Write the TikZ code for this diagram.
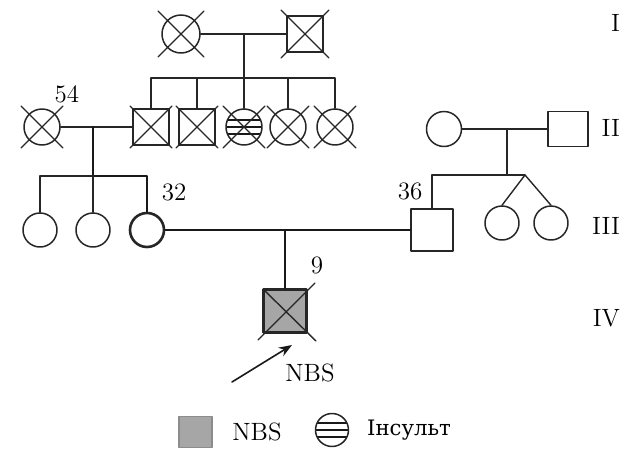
\documentclass[tikz,border=0pt]{standalone}
\usepackage{fontspec}
\newfontfamily\cyrfont{DejaVu Serif}[Scale=0.85]
\usetikzlibrary{arrows.meta}
\tikzset{
  every picture/.style={font=\fontsize{12.5}{14}\selectfont, line join=round, line cap=round, >=Stealth},
  link/.style={draw=black!85, line width=0.7pt},
  bold link/.style={draw=black!90, line width=1.25pt},
  person/.style={draw=black!85, line width=0.75pt, inner sep=0pt, fill=white},
  male/.style={person, rectangle, minimum size=18pt},
  female/.style={person, circle, minimum size=18pt},
  insult/.style={path picture={
    \draw[black!90, line width=1.4pt, shift={(path picture bounding box.center)}]
      (-30,-7) -- (30,-7) (-30,0) -- (30,0) (-30,7) -- (30,7);}},
}
\newcommand{\deceased}[2]{\draw[link,shift={(#1.center)}] (-#2,-#2) -- (#2,#2) (-#2,#2) -- (#2,-#2);}

\begin{document}
\begin{tikzpicture}[x=0.5pt,y=-0.5pt]
\useasboundingbox (0,0) rectangle (639,450);
% generation I
\node[female,minimum size=19pt] (g1) at (181,34) {};
\node[male] (g2) at (305,34) {};
\coordinate (u1) at (244,34);
\coordinate (k1) at (244,78);
\draw[link] (g1) -- (g2);
\draw[link] (u1) -- (k1);
% generation II
\node[female] (w54) at (42,127) {};
\node[male] (s1) at (151,127) {};
\node[male] (s2) at (197,127) {};
\node[female,insult] (s3) at (244,127) {};
\node[female] (s4) at (288,127) {};
\node[female] (s5) at (335,127) {};
\node[female,minimum size=17.5pt] (b1) at (444,129) {};
\node[male,minimum width=20pt,minimum height=17.5pt] (b2) at (568,129) {};
\draw[link] (s1.north) |- (k1) -| (s5.north);
\draw[link] (s2.north) -- (s2.north |- k1);
\draw[link] (s3.north) -- (k1);
\draw[link] (s4.north) -- (s4.north |- k1);
\coordinate (u2) at (93,127);
\coordinate (k2) at (93,176);
\draw[link] (w54) -- (s1);
\coordinate (u4) at (507,129);
\coordinate (k4) at (507,175);
\coordinate (tw) at (525,175);
\draw[link] (b1) -- (b2);
\draw[link] (u4) -- (k4);
% generation III
\node[female,minimum size=17pt] (c1) at (40,230) {};
\node[female,minimum size=17pt] (c2) at (93,230) {};
\node[female,minimum size=17pt,line width=1.3pt] (c3) at (147,230) {};
\node[male,minimum size=21pt] (h36) at (432,230) {};
\node[female,minimum size=17pt] (t1) at (502,223) {};
\node[female,minimum size=17pt] (t2) at (551,223) {};
\draw[bold link] (u2) -- (k2) -| (c3.north);
\draw[link] (c1.north) |- (k2) -- (c2.north);
\draw[link] (h36.north) |- (tw);
\draw[link] (t1.north) -- (tw) -- (t2.north);
\draw[bold link] (c3) -- (h36);
\coordinate (u3) at (285,230);
% generation IV
\node[male,minimum size=21.5pt,fill=black!35,line width=1.4pt] (p9) at (285,311) {};
\draw[bold link] (u3) -- (p9.north);
\draw[link,shift={(p9.center)}] (-21.5,-21.5) -- (31,30) (-27,29) -- (30,-28);
% deceased
\deceased{g1}{23}
\deceased{g2}{24}
\deceased{w54}{21}
\deceased{s1}{21}
\deceased{s2}{21}
\deceased{s3}{21}
\deceased{s4}{21}
\deceased{s5}{21}
% labels
\node (n54) at (67,94) {54};
\node (n32) at (174,192) {32};
\node (n36) at (410,191) {36};
\node (n9) at (317,265) {9};
\node (nbs) at (310,373) {NBS};
\coordinate (ar1) at (232,382);
\coordinate (ar2) at (292,345);
\draw[->,black!90,line width=0.8pt] (ar1) -- (ar2);
\node[anchor=east] (r1) at (627,23) {I};
\node[anchor=east] (r2) at (627,128) {II};
\node[anchor=east] (r3) at (627,226) {III};
\node[anchor=east] (r4) at (627,318) {IV};
% legend
\node[male,minimum width=16.5pt,minimum height=15.5pt,fill=black!35,draw=black!45] (lg1) at (195.5,432) {};
\node (lt1) at (257,432) {NBS};
\node[female,insult,minimum size=16.5pt] (lg2) at (332,430) {};
\node (lt2) at (409,430) {\cyrfont Інсульт};
\end{tikzpicture}
\end{document}
